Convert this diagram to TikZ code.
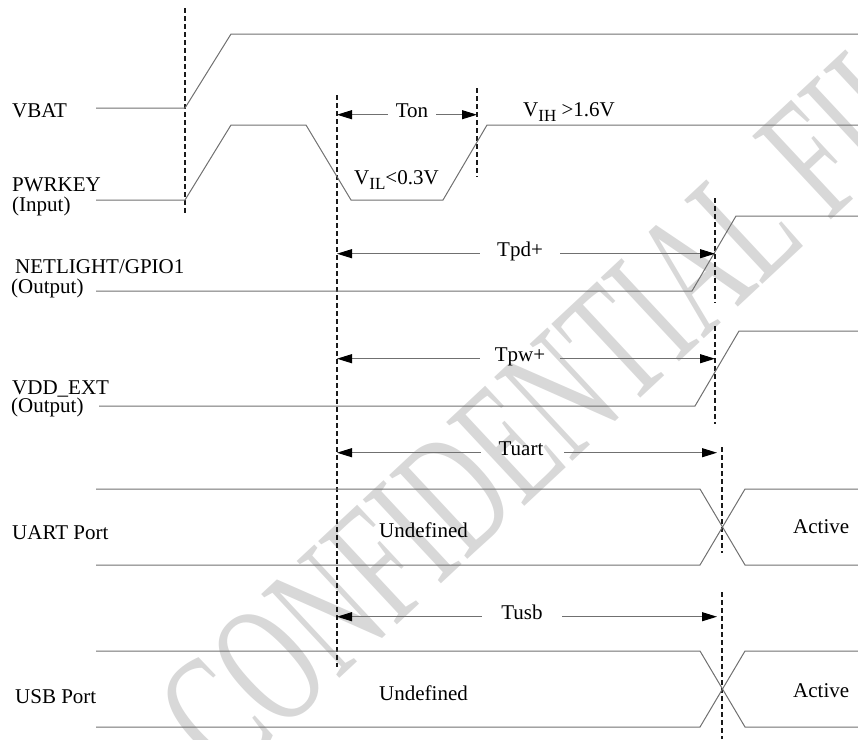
\documentclass[tikz,border=0pt]{standalone}
\usepackage{fontspec}
\setmainfont{Liberation Serif}
\usetikzlibrary{arrows.meta}
\definecolor{sigline}{HTML}{707070}
\definecolor{markline}{HTML}{1A1A1A}
\definecolor{stampgray}{HTML}{D8D8D8}

\begin{document}
\begin{tikzpicture}[
  x=1pt,
  y=-1pt,
  every node/.style={font=\fontsize{21}{24}\selectfont, inner sep=0pt, black},
  signal/.style={sigline, line width=1pt},
  marker/.style={markline, line width=1.2pt, dash pattern=on 5pt off 3pt},
  span/.style={sigline, line width=1pt,
               -{Triangle[length=15pt, width=9pt, color=black]}},
  timelab/.style={anchor=base, minimum width=80pt},
  signame/.style={anchor=base west},
  stamp/.style={stampgray, rotate=43, xscale=0.62, anchor=west,
                font=\fontsize{175}{175}\selectfont}
]
  % ---- page frame ----
  \useasboundingbox (0,0) rectangle (858,739);

  % ---- watermark ----
  \begin{scope}
    \clip (0,0) rectangle (858,739);
    \node[stamp] (wm) at (188,742) {CONFIDENTIAL FILE};
  \end{scope}

  % ---- dashed markers ----
  \coordinate (d1t) at (185,8);   \coordinate (d1b) at (185,215);
  \coordinate (d2t) at (337,95);  \coordinate (d2b) at (337,667);
  \coordinate (d3t) at (477,88);  \coordinate (d3b) at (477,177);
  \coordinate (d4t) at (715,198); \coordinate (d4b) at (715,303);
  \coordinate (d5t) at (715,326); \coordinate (d5b) at (715,424);
  \coordinate (d6t) at (722,447); \coordinate (d6b) at (722,553);
  \coordinate (d7t) at (722,592); \coordinate (d7b) at (722,739);
  \foreach \d in {d1,d2,d3,d4,d5,d6,d7}
    \draw[marker] (\d t) -- (\d b);

  % ---- signal names ----
  \node[signame] (vbat)   at (12,117) {VBAT};
  \node[signame] (pwrkey) at (12,191) {PWRKEY};
  \node[signame] (pwrdir) at (12,211) {(Input)};
  \node[signame] (netl)   at (15,273) {NETLIGHT/GPIO1};
  \node[signame] (netdir) at (11,293) {(Output)};
  \node[signame] (vdd)    at (12,394) {VDD\_EXT};
  \node[signame] (vdddir) at (11,412) {(Output)};
  \node[signame] (uart)   at (12,539) {UART Port};
  \node[signame] (usb)    at (15,703) {USB Port};

  % ---- waveforms ----
  \draw[signal] (96,108) -- (185,108) -- (231,34) -- (858,34);
  \draw[signal] (96,200) -- (185,200) -- (231,125) -- (306,125)
    -- (351,200) -- (443,200) -- (487,125) -- (858,125);
  \draw[signal] (96,291) -- (692,291) -- (736,216) -- (858,216);
  \draw[signal] (99,406) -- (695,406) -- (739,331) -- (858,331);
  \foreach \top/\bot in {489/565, 651/727} {
    \draw[signal] (96,\top) -- (700,\top) -- (745,\bot) -- (858,\bot);
    \draw[signal] (96,\bot) -- (700,\bot) -- (745,\top) -- (858,\top);
  }

  % ---- level labels ----
  \node[signame] (vil) at (354,184)
    {V\raisebox{-5pt}{\fontsize{17}{17}\selectfont IL}<0.3V};
  \node[signame] (vih) at (523,116)
    {V\raisebox{-5pt}{\fontsize{17}{17}\selectfont IH} >1.6V};
  \node[signame] (undef1) at (379,537) {Undefined};
  \node[signame] (undef2) at (379,700) {Undefined};
  \node[signame] (act1)   at (793,533) {Active};
  \node[signame] (act2)   at (793,697) {Active};

  % ---- timing spans ----
  \node[timelab, minimum width=48pt] (ton) at (412,117) {Ton};
  \node[timelab] (tpd)   at (520,256) {Tpd+};
  \node[timelab] (tpw)   at (520,361) {Tpw+};
  \node[timelab] (tuart) at (521,455) {Tuart};
  \node[timelab] (tusb)  at (522,619) {Tusb};
  \draw[span] (ton.mid west) -- (ton.mid west -| d2t);
  \draw[span] (ton.mid east) -- (ton.mid east -| d3t);
  \draw[span] (tpd.mid west) -- (tpd.mid west -| d2t);
  \draw[span] (tpd.mid east) -- (tpd.mid east -| d4t);
  \draw[span] (tpw.mid west) -- (tpw.mid west -| d2t);
  \draw[span] (tpw.mid east) -- (tpw.mid east -| d5t);
  \draw[span] (tuart.mid west) -- (tuart.mid west -| d2t);
  \draw[span] ([xshift=3pt]tuart.mid east) -- ([xshift=-5pt]tuart.mid east -| d6t);
  \draw[span] (tusb.mid west) -- (tusb.mid west -| d2t);
  \draw[span] (tusb.mid east) -- ([xshift=-5pt]tusb.mid east -| d7t);
\end{tikzpicture}
\end{document}
